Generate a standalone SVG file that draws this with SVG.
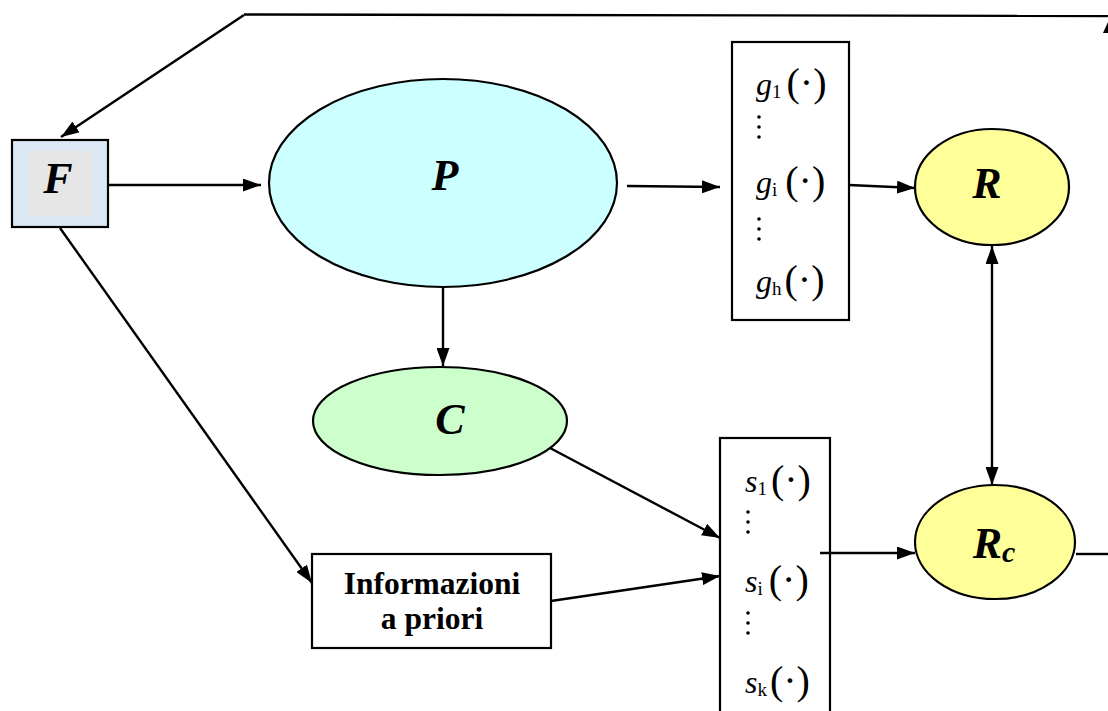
<svg xmlns="http://www.w3.org/2000/svg" width="1108" height="711" viewBox="0 0 1108 711">
<style>
.ln{stroke:#000;stroke-width:2.4;fill:none}
.sh{stroke:#000;stroke-width:2.2}
.big{font-family:"Liberation Serif",serif;font-weight:bold;font-style:italic;font-size:44px;text-anchor:middle}
.info{font-family:"Liberation Serif",serif;font-weight:bold;font-size:31.5px;text-anchor:middle}
.fn{font-family:"Liberation Serif",serif;font-style:italic;font-size:32px}
.sub{font-family:"Liberation Serif",serif;font-style:normal;font-size:19px}
.par{font-family:"Liberation Serif",serif;font-style:normal;font-size:40px}
</style>
<defs>
<marker id="ah" viewBox="0 0 18 13" refX="18" refY="6.5" markerWidth="18" markerHeight="13" markerUnits="userSpaceOnUse" orient="auto-start-reverse">
<path d="M0,0 L18,6.5 L0,13 Z" fill="#000"/>
</marker>
<g id="vdots"><circle cx="0" cy="0" r="1.8"/><circle cx="0" cy="10" r="1.8"/><circle cx="0" cy="20" r="1.8"/></g>
</defs>
<rect width="1108" height="711" fill="#fff"/>

<g id="F">
<rect class="sh" x="12" y="140" width="96" height="87" fill="#dce8f4"/>
<rect x="28" y="151" width="64" height="65" fill="#e6e6e6"/>
<text class="big" x="58" y="193">F</text>
</g>

<g id="P">
<ellipse class="sh" cx="443" cy="183" rx="174" ry="104" fill="#ccffff"/>
<text class="big" x="445" y="190">P</text>
</g>

<g id="C">
<ellipse class="sh" cx="440" cy="421" rx="127" ry="54" fill="#ccffcc"/>
<text class="big" x="450" y="434">C</text>
</g>

<g id="R">
<ellipse class="sh" cx="992" cy="187" rx="77" ry="58" fill="#ffff99"/>
<text class="big" x="987" y="198">R</text>
</g>

<g id="Rc">
<ellipse class="sh" cx="995" cy="542" rx="80" ry="57" fill="#ffff99"/>
<text class="big" x="994" y="558">R<tspan font-size="30px" dy="4">c</tspan></text>
</g>

<g id="Info">
<rect class="sh" x="312" y="554" width="239" height="94" fill="#fff"/>
<text class="info" x="432" y="594">Informazioni</text>
<text class="info" x="432" y="629">a priori</text>
</g>

<g id="G">
<rect class="sh" x="732" y="42" width="117" height="278" fill="#fff"/>
<text class="fn" x="756" y="95">g<tspan class="sub" dy="3">1</tspan><tspan class="par" dx="5" dy="-2">(·)</tspan></text>
<use href="#vdots" x="759" y="117"/>
<text class="fn" x="756" y="193">g<tspan class="sub" dy="3">i</tspan><tspan class="par" dx="8" dy="-2">(·)</tspan></text>
<use href="#vdots" x="759" y="219"/>
<text class="fn" x="756" y="292">g<tspan class="sub" dy="3">h</tspan><tspan class="par" dx="3" dy="-2">(·)</tspan></text>
</g>

<g id="S">
<rect class="sh" x="720" y="438" width="110" height="280" fill="#fff"/>
<text class="fn" x="745" y="492">s<tspan class="sub" dy="3">1</tspan><tspan class="par" dx="4" dy="-2">(·)</tspan></text>
<use href="#vdots" x="748" y="512"/>
<text class="fn" x="745" y="592">s<tspan class="sub" dy="3">i</tspan><tspan class="par" dx="6" dy="-2">(·)</tspan></text>
<use href="#vdots" x="748" y="613"/>
<text class="fn" x="745" y="693">s<tspan class="sub" dy="3">k</tspan><tspan class="par" dx="3" dy="-2">(·)</tspan></text>
</g>

<g id="connectors">
<line class="ln" x1="244" y1="14.5" x2="1108" y2="16"/>
<line class="ln" x1="244" y1="15" x2="61" y2="137" marker-end="url(#ah)"/>
<polygon points="1103,33 1108,22 1108,33" fill="#000"/>
<line class="ln" x1="108" y1="185" x2="261" y2="185" marker-end="url(#ah)"/>
<line class="ln" x1="627" y1="186" x2="720" y2="187" marker-end="url(#ah)"/>
<line class="ln" x1="849" y1="185" x2="915" y2="188" marker-end="url(#ah)"/>
<line class="ln" x1="443" y1="288" x2="443" y2="366" marker-end="url(#ah)"/>
<line class="ln" x1="60" y1="228" x2="312" y2="583" marker-end="url(#ah)"/>
<line class="ln" x1="550" y1="448" x2="720" y2="538" marker-end="url(#ah)"/>
<line class="ln" x1="551" y1="601" x2="720" y2="576" marker-end="url(#ah)"/>
<line class="ln" x1="820" y1="553" x2="915" y2="553" marker-end="url(#ah)"/>
<line class="ln" x1="992" y1="246" x2="992" y2="485" marker-start="url(#ah)" marker-end="url(#ah)"/>
<line class="ln" x1="1076" y1="554" x2="1108" y2="554"/>
</g>
</svg>
